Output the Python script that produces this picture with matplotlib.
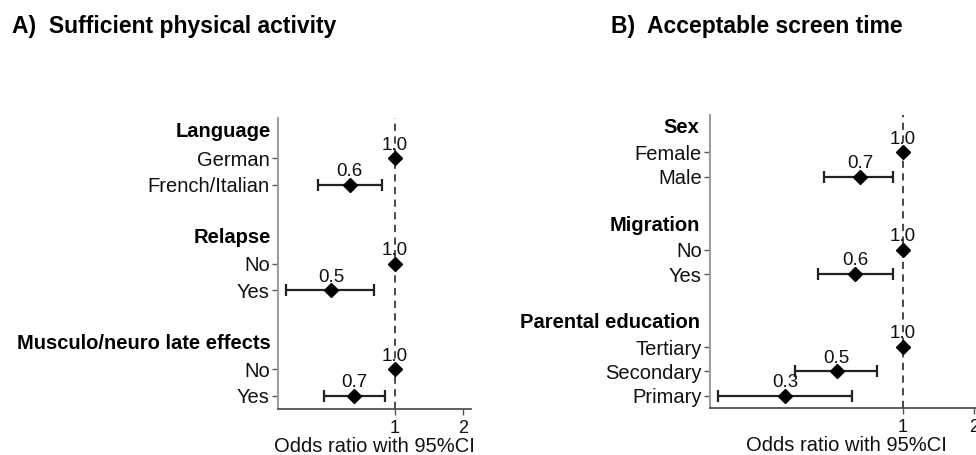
import matplotlib
matplotlib.use("Agg")
import matplotlib.pyplot as plt
import numpy as np

plt.rcParams['font.family'] = ['Liberation Sans', 'DejaVu Sans']

# Panel A: sufficient physical activity
a_title = "A)  Sufficient physical activity"
a_rows = ["Language", "German", "French/Italian", "",
          "Relapse", "No", "Yes", "",
          "Musculo/neuro late effects", "No", "Yes"]
a_headers = [0, 4, 8]
a_or = [np.nan, 1.0, 0.63, np.nan, np.nan, 1.0, 0.52, np.nan, np.nan, 1.0, 0.66]
a_lo = [np.nan, np.nan, 0.456, np.nan, np.nan, np.nan, 0.33, np.nan, np.nan, np.nan, 0.485]
a_hi = [np.nan, np.nan, 0.875, np.nan, np.nan, np.nan, 0.81, np.nan, np.nan, np.nan, 0.90]
a_xlim = (0.303, 2.17)

# Panel B: acceptable screen time
b_title = "B)  Acceptable screen time"
b_rows = ["Sex", "Female", "Male", "",
          "Migration", "No", "Yes", "",
          "Parental education", "Tertiary", "Secondary", "Primary"]
b_headers = [0, 4, 8]
b_or = [np.nan, 1.0, 0.66, np.nan, np.nan, 1.0, 0.63, np.nan, np.nan, 1.0, 0.524, 0.316]
b_lo = [np.nan, np.nan, 0.463, np.nan, np.nan, np.nan, 0.438, np.nan, np.nan, np.nan, 0.349, 0.164]
b_hi = [np.nan, np.nan, 0.91, np.nan, np.nan, np.nan, 0.91, np.nan, np.nan, np.nan, 0.781, 0.61]
b_xlim = (0.152, 2.17)

x_ticks = [1, 2]
x_label = "Odds ratio with 95%CI"

W, H = 976, 455
fig = plt.figure(figsize=(W / 100, H / 100), dpi=100)


def px_axes(left, right, top, bottom):
    return fig.add_axes([left / W, 1 - bottom / H, (right - left) / W, (bottom - top) / H])


def forest(ax, rows, headers, ors, los, his, xlim):
    n = len(rows)
    y = np.arange(n)
    ors = np.array(ors, dtype=float)
    los = np.array(los, dtype=float)
    his = np.array(his, dtype=float)
    ax.set_xscale('log')
    ax.set_xlim(*xlim)
    ax.set_ylim(n - 0.5, -0.53)
    ax.axvline(1, color='#3a3a3a', lw=1.3, ls=(0, (4, 3)), zorder=1)
    has_ci = ~np.isnan(los)
    ax.errorbar(ors[has_ci], y[has_ci],
                xerr=[ors[has_ci] - los[has_ci], his[has_ci] - ors[has_ci]],
                fmt='none', ecolor='#222222', elinewidth=1.6, capsize=4,
                capthick=1.6, zorder=2)
    pts = ~np.isnan(ors)
    ax.plot(ors[pts], y[pts], 'D', color='black', ms=7, zorder=3)
    for xv, yv in zip(ors[pts], y[pts]):
        ax.annotate(f"{xv:.1f}", (xv, yv), xytext=(0, 9.5), textcoords='offset points',
                    ha='center', va='center', fontsize=13.5, color='#111111', zorder=4)
    item_idx = [i for i in range(n) if rows[i] and i not in headers]
    ax.set_yticks([y[i] for i in item_idx])
    ax.set_yticklabels([rows[i] for i in item_idx], fontsize=14.5, color='#111111')
    for i in headers:
        ax.text(-0.038, y[i], rows[i], transform=ax.get_yaxis_transform(),
                ha='right', va='center', fontsize=14.5, fontweight='bold', color='black')
    ax.set_xticks(x_ticks)
    ax.set_xticklabels([str(t) for t in x_ticks], fontsize=13, color='#111111')
    ax.xaxis.set_minor_locator(matplotlib.ticker.NullLocator())
    ax.set_xlabel(x_label, fontsize=14.5, color='#111111', labelpad=0)
    for s in ('top', 'right'):
        ax.spines[s].set_visible(False)
    ax.spines['left'].set_color('#9a9a9a')
    ax.spines['bottom'].set_color('#444444')
    ax.spines['left'].set_linewidth(1.4)
    ax.spines['bottom'].set_linewidth(1.2)
    ax.tick_params(axis='y', length=4, width=1, color='#555555', pad=2)
    ax.tick_params(axis='x', length=4, width=1, color='#555555', pad=4)


ax_a = px_axes(278, 471, 118, 409)
forest(ax_a, a_rows, a_headers, a_or, a_lo, a_hi, a_xlim)
ax_b = px_axes(710, 982, 115, 408)
forest(ax_b, b_rows, b_headers, b_or, b_lo, b_hi, b_xlim)

fig.text(12 / W, 1 - 27 / H, a_title, fontsize=16.5, fontweight='bold', va='center', ha='left')
fig.text(611 / W, 1 - 27 / H, b_title, fontsize=16.5, fontweight='bold', va='center', ha='left')

fig.savefig("out.png", dpi=100)
